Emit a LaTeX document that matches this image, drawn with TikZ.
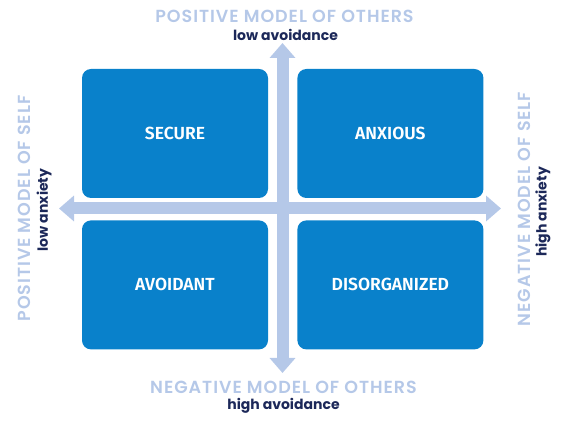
\documentclass[tikz,border=0pt]{standalone}
\usepackage{fontspec}
\setmainfont{Poppins}
\newfontfamily\modelfont[LetterSpace=5.5]{Poppins SemiBold}
\newfontfamily\boxfont{Fira Sans SemiBold}
\usetikzlibrary{arrows.meta,positioning}
\definecolor{quadblue}{HTML}{0981CB}
\definecolor{axispale}{HTML}{B5C8E8}
\definecolor{labelnavy}{HTML}{1C2859}
\tikzset{
  quad/.style={fill=quadblue,rounded corners=9pt,minimum width=186pt,minimum height=129pt,
               inner sep=0pt,text=white,font=\boxfont\fontsize{17.5}{19}\selectfont},
  axis/.style={{Triangle[width=25pt,length=15pt]}-{Triangle[width=25pt,length=15pt]},
               line width=12pt,draw=axispale},
  model/.style={text=axispale,inner sep=0pt,font=\modelfont\fontsize{17.5}{20}\selectfont},
  pole/.style={text=labelnavy,inner sep=0pt,font=\bfseries\fontsize{14}{16}\selectfont},
}
\begin{document}
\begin{tikzpicture}[x=1pt,y=-1pt]
  \useasboundingbox (0,0) rectangle (562,427);

  % the two axes, drawn first so the quadrants sit on top
  \coordinate (north) at (282.5,43);
  \coordinate (south) at (282.5,373);
  \coordinate (west) at (59,208.5);
  \coordinate (east) at (501,208.5);
  \draw[axis] (south) -- (north);
  \draw[axis] (west) -- (east);

  % quadrants
  \node[quad] (secure) at (175,133.5) {SECURE};
  \node[quad,right=29pt of secure] (anxious) {ANXIOUS};
  \node[quad,below=22pt of secure] (avoidant) {AVOIDANT};
  \node[quad,right=29pt of avoidant] (disorg) {DISORGANIZED};

  % axis labels
  \node[model] (posothers) at (284.5,16) {POSITIVE MODEL OF OTHERS};
  \node[pole] (lowavoid) at (285.5,35) {low avoidance};
  \node[model] (negothers) at (283.5,387) {NEGATIVE MODEL OF OTHERS};
  \node[pole] (highavoid) at (283.5,406) {high avoidance};
  \node[model,rotate=90] (posself) at (24,208.5) {POSITIVE MODEL OF SELF};
  \node[pole,rotate=90] (lowanx) at (44,210) {low anxiety};
  \node[model,rotate=90] (negself) at (524,209) {NEGATIVE MODEL OF SELF};
  \node[pole,rotate=90] (highanx) at (543,212) {high anxiety};
\end{tikzpicture}
\end{document}
